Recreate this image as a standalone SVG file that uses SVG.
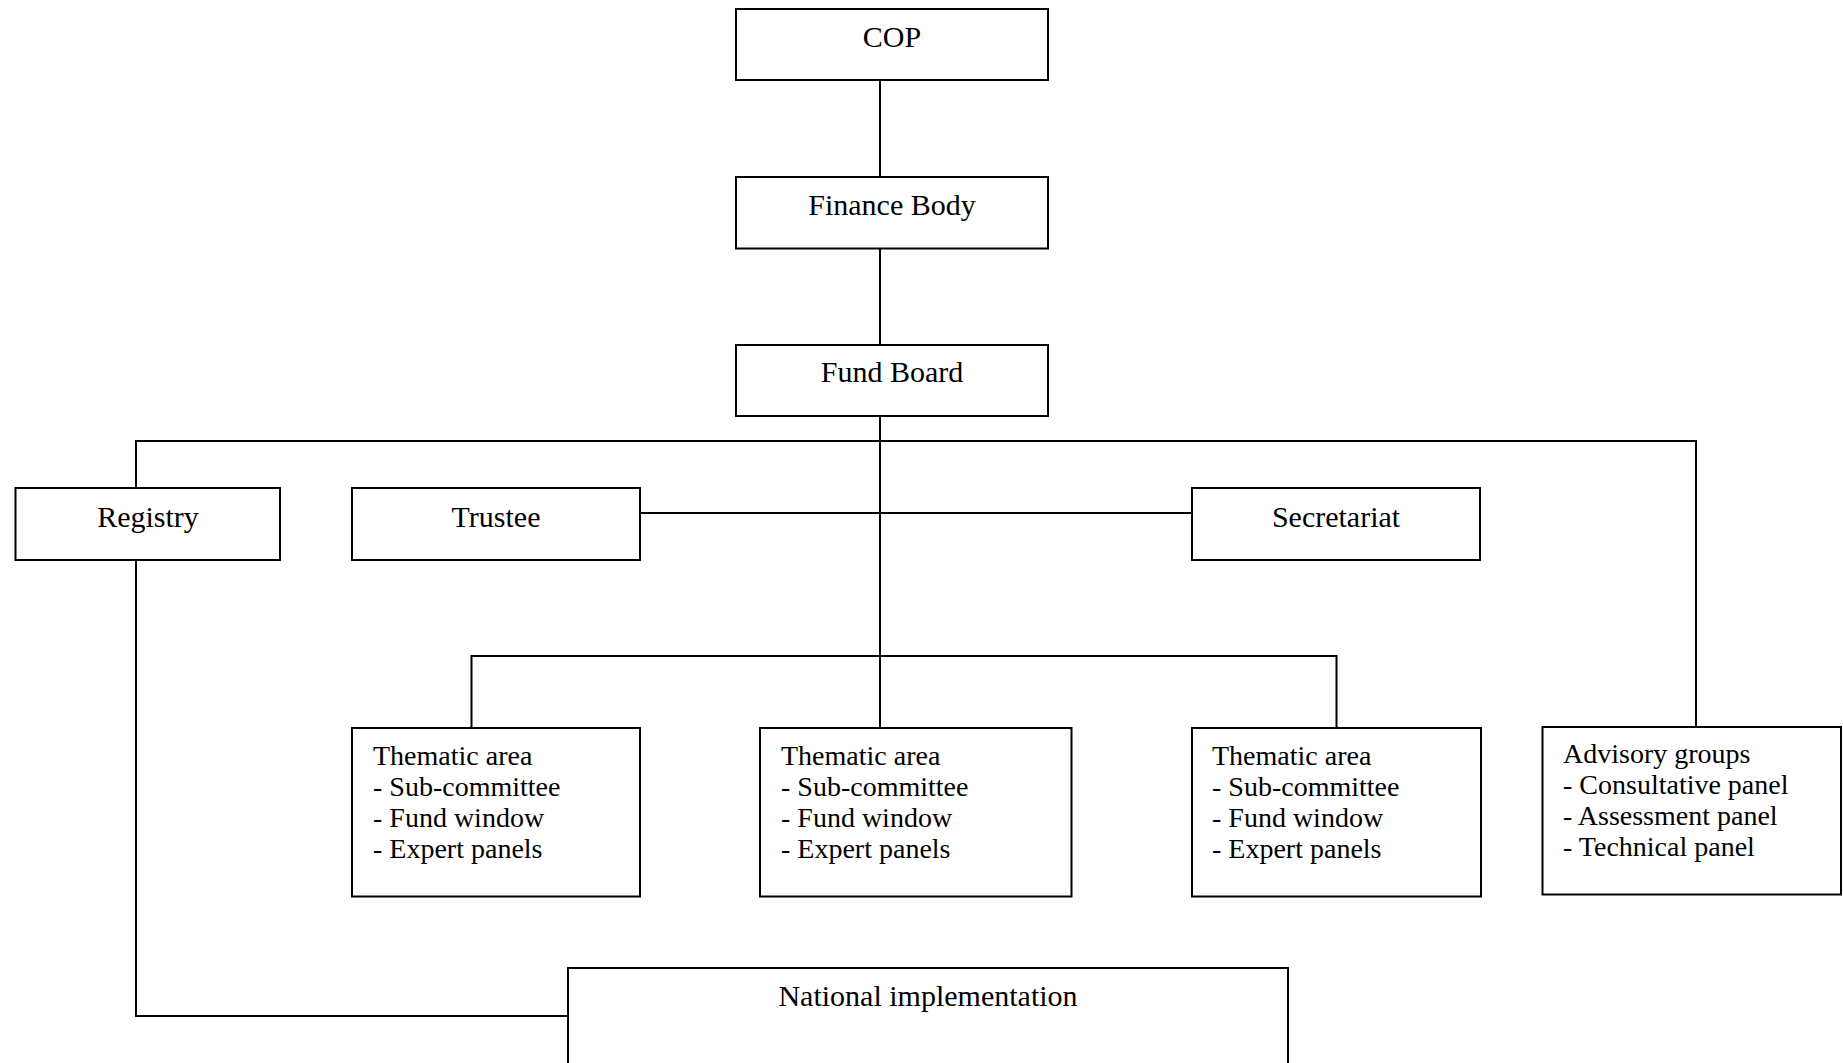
<svg xmlns="http://www.w3.org/2000/svg" width="1843" height="1063" viewBox="0 0 1843 1063">
<style>
.box{fill:#fff;stroke:#000;stroke-width:2}
.ln{fill:none;stroke:#000;stroke-width:2}
.lbl{font-family:"Liberation Serif","Times New Roman",serif;font-size:30px;fill:#000;text-anchor:middle}
.lst{font-family:"Liberation Serif","Times New Roman",serif;font-size:28px;fill:#000}
</style>
<rect width="1843" height="1063" fill="#fff"/>
<g id="connectors">
<path class="ln" d="M880 80V177"/>
<path class="ln" d="M880 248V345"/>
<path class="ln" d="M880 416V728"/>
<path class="ln" d="M136 488V441H1696V727"/>
<path class="ln" d="M640 513H1192"/>
<path class="ln" d="M471.5 728V656H1336.5V728"/>
<path class="ln" d="M136 560V1016H568"/>
</g>
<g id="cop"><rect class="box" x="736" y="9" width="312" height="71"/><text class="lbl" x="892" y="47">COP</text></g>
<g id="finance-body"><rect class="box" x="736" y="177" width="312" height="71.5"/><text class="lbl" x="892" y="215">Finance Body</text></g>
<g id="fund-board"><rect class="box" x="736" y="345" width="312" height="71"/><text class="lbl" x="892" y="382">Fund Board</text></g>
<g id="registry"><rect class="box" x="15.5" y="488" width="264.5" height="72"/><text class="lbl" x="148" y="527">Registry</text></g>
<g id="trustee"><rect class="box" x="352" y="488" width="288" height="72"/><text class="lbl" x="496" y="527">Trustee</text></g>
<g id="secretariat"><rect class="box" x="1192" y="488" width="288" height="72"/><text class="lbl" x="1336" y="527">Secretariat</text></g>
<g id="thematic-1"><rect class="box" x="352" y="728" width="288" height="168.5"/>
<text class="lst" x="373" y="765">Thematic area</text><text class="lst" x="373" y="796">- Sub-committee</text><text class="lst" x="373" y="827">- Fund window</text><text class="lst" x="373" y="858">- Expert panels</text></g>
<g id="thematic-2"><rect class="box" x="760" y="728" width="311.5" height="168.5"/>
<text class="lst" x="781" y="765">Thematic area</text><text class="lst" x="781" y="796">- Sub-committee</text><text class="lst" x="781" y="827">- Fund window</text><text class="lst" x="781" y="858">- Expert panels</text></g>
<g id="thematic-3"><rect class="box" x="1192" y="728" width="289" height="168.5"/>
<text class="lst" x="1212" y="765">Thematic area</text><text class="lst" x="1212" y="796">- Sub-committee</text><text class="lst" x="1212" y="827">- Fund window</text><text class="lst" x="1212" y="858">- Expert panels</text></g>
<g id="advisory-groups"><rect class="box" x="1542.5" y="727" width="298.5" height="167.5"/>
<text class="lst" x="1563" y="763">Advisory groups</text><text class="lst" x="1563" y="794">- Consultative panel</text><text class="lst" x="1563" y="825">- Assessment panel</text><text class="lst" x="1563" y="856">- Technical panel</text></g>
<g id="national-implementation"><rect class="box" x="568" y="968" width="720" height="110"/><text class="lbl" x="928" y="1006">National implementation</text></g>
</svg>
